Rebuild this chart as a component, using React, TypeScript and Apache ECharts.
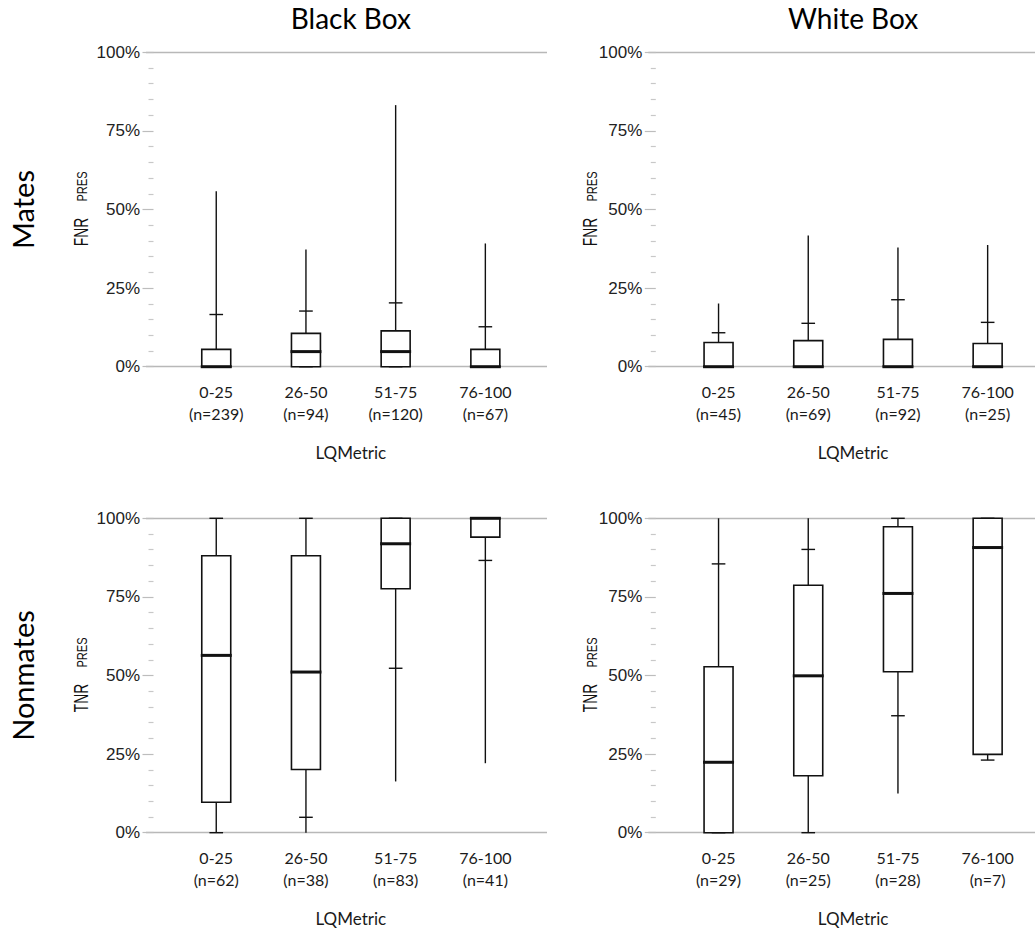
import React, { useEffect, useRef } from 'react';
import * as echarts from 'echarts';

// LQMetric bins (same for every panel)
const categories = ['0-25', '26-50', '51-75', '76-100'];

// sample sizes per bin
const nBlackMates = [239, 94, 120, 67];
const nWhiteMates = [45, 69, 92, 25];
const nBlackNonmates = [62, 38, 83, 41];
const nWhiteNonmates = [29, 25, 28, 7];

// one row per bin: [min, lower tick, Q1, median, Q3, upper tick, max] in %
const blackMates = [
  [0, 0, 0, 0, 5.5, 16.6, 55.8],
  [0, 0, 0, 4.8, 10.6, 17.7, 37.3],
  [0, 0, 0, 4.8, 11.4, 20.3, 83.2],
  [0, 0, 0, 0, 5.5, 12.7, 39.2],
];
const whiteMates = [
  [0, 0, 0, 0, 7.7, 10.8, 20.1],
  [0, 0, 0, 0, 8.3, 13.8, 41.7],
  [0, 0, 0, 0, 8.7, 21.3, 37.9],
  [0, 0, 0, 0, 7.4, 14.1, 38.7],
];
const blackNonmates = [
  [0, 0, 9.7, 56.4, 88.1, 100, 100],
  [0, 4.9, 20.1, 51.1, 88.1, 100, 100],
  [16.3, 52.3, 77.6, 91.9, 100, 100, 100],
  [22.1, 86.6, 94.0, 100, 100, 100, 100],
];
const whiteNonmates = [
  [0, 0, 0, 22.4, 52.8, 85.5, 100],
  [0, 0, 18.1, 49.9, 78.7, 90.1, 100],
  [12.5, 37.2, 51.2, 76.1, 97.3, 100, 100],
  [23.1, 23.1, 24.9, 90.7, 100, 100, 100],
];

const yTicks = [0, 25, 50, 75, 100];

// layout (pixels)
const COL_DX = 502.3;
const ROW_TOP = [52.3, 518.3];
const PLOT_H = 314.4;
const FRAME_LEFT = 146;
const FRAME_W = 401;
const BOX_LEFT = 171.4;
const BOX_W = 358.8;
const AXIS_X = 153.5;

const panels = [
  { rows: blackMates, counts: nBlackMates, col: 0, row: 0, yName: 'FNR' },
  { rows: whiteMates, counts: nWhiteMates, col: 1, row: 0, yName: 'FNR' },
  { rows: blackNonmates, counts: nBlackNonmates, col: 0, row: 1, yName: 'TNR' },
  { rows: whiteNonmates, counts: nWhiteNonmates, col: 1, row: 1, yName: 'TNR' },
];

const renderBox = (params: any, api: any) => {
  const idx = api.value(0);
  const v = [1, 2, 3, 4, 5, 6, 7].map((k) => api.value(k));
  const band = api.size([1, 0])[0];
  const boxW = band * 0.323;
  const capW = band * 0.152;
  const y = (val: number) => api.coord([idx, val])[1];
  const cx = api.coord([idx, 0])[0];
  const [yMin, yLow, yQ1, yMed, yQ3, yHigh, yMax] = v.map(y);
  const ink = '#111';
  const line = (x1: number, y1: number, x2: number, y2: number, w: number) => ({
    type: 'line',
    shape: { x1, y1, x2, y2 },
    style: { stroke: ink, lineWidth: w },
  });
  return {
    type: 'group',
    children: [
      line(cx, yQ3, cx, yMax, 1.4),
      line(cx, yQ1, cx, yMin, 1.4),
      line(cx - capW / 2, yHigh, cx + capW / 2, yHigh, 1.4),
      line(cx - capW / 2, yLow, cx + capW / 2, yLow, 1.4),
      {
        type: 'rect',
        shape: { x: cx - boxW / 2, y: yQ3, width: boxW, height: yQ1 - yQ3 },
        style: { fill: '#fff', stroke: ink, lineWidth: 1.6 },
      },
      line(cx - boxW / 2 - 1, yMed, cx + boxW / 2 + 1, yMed, 3),
    ],
  };
};

const App: React.FC = () => {
  const chartRef = useRef<HTMLDivElement>(null);

  useEffect(() => {
    if (!chartRef.current) return;
    const chart = echarts.init(chartRef.current, undefined, { renderer: 'svg' });

    const grid: any[] = [];
    const xAxis: any[] = [];
    const yAxis: any[] = [];
    const series: any[] = [];
    const graphic: any[] = [];

    panels.forEach((p, i) => {
      const dx = p.col * COL_DX;
      const top = ROW_TOP[p.row];

      // wide frame grid: only the grey lines at 0% and 100%
      grid.push({ left: FRAME_LEFT + dx, top, width: FRAME_W, height: PLOT_H });
      xAxis.push({ gridIndex: 2 * i, type: 'value', show: false });
      yAxis.push({
        gridIndex: 2 * i,
        type: 'value',
        min: 0,
        max: 100,
        interval: 100,
        axisLine: { show: false },
        axisTick: { show: false },
        axisLabel: { show: false },
        splitLine: { show: true, lineStyle: { color: '#b8b8b8', width: 1.3 } },
      });

      // box grid
      grid.push({ left: BOX_LEFT + dx, top, width: BOX_W, height: PLOT_H });
      xAxis.push({
        gridIndex: 2 * i + 1,
        type: 'category',
        data: categories.map((c, k) => `${c}\n(n=${p.counts[k]})`),
        axisLine: { show: false },
        axisTick: { show: false },
        axisLabel: {
          margin: 14,
          fontSize: 16,
          lineHeight: 22,
          fontFamily: 'Lato',
          color: '#1a1a1a',
        },
      });
      yAxis.push({
        gridIndex: 2 * i + 1,
        type: 'value',
        min: yTicks[0],
        max: yTicks[yTicks.length - 1],
        interval: 25,
        offset: BOX_LEFT - AXIS_X,
        axisLine: { show: false },
        axisTick: { show: true, length: 11, lineStyle: { color: '#bdbdbd', width: 1.2 } },
        minorTick: { show: true, splitNumber: 5, length: 5, lineStyle: { color: '#c8c8c8', width: 1.2 } },
        splitLine: { show: false },
        axisLabel: {
          formatter: '{value}%',
          margin: 13.5,
          fontSize: 17,
          fontFamily: 'Liberation Sans',
          color: '#222',
        },
      });

      series.push({
        type: 'custom',
        xAxisIndex: 2 * i + 1,
        yAxisIndex: 2 * i + 1,
        renderItem: renderBox,
        encode: { x: 0, y: [1, 2, 3, 4, 5, 6, 7] },
        data: p.rows.map((r, k) => [k, ...r]),
        z: 5,
      });

      // y axis name, e.g. FNR PRES (rotated, squeezed along the text)
      const nameX = p.col ? 590.3 : 81;
      const mid = top + PLOT_H / 2;
      graphic.push({
        type: 'text',
        x: nameX,
        y: mid + 22.5,
        rotation: Math.PI / 2,
        scaleX: 0.69,
        style: {
          text: p.yName,
          fontSize: 20,
          fontFamily: 'Liberation Sans',
          fill: '#111',
          align: 'center',
          verticalAlign: 'middle',
        },
      });
      graphic.push({
        type: 'text',
        x: nameX + 2,
        y: mid - 23,
        rotation: Math.PI / 2,
        scaleX: 0.79,
        style: {
          text: 'PRES',
          fontSize: 14,
          fontFamily: 'Liberation Sans',
          fill: '#111',
          align: 'center',
          verticalAlign: 'middle',
        },
      });

      // x axis name
      graphic.push({
        type: 'text',
        x: BOX_LEFT + dx + BOX_W / 2,
        y: top + PLOT_H + 85.8,
        style: {
          text: 'LQMetric',
          fontSize: 17,
          fontFamily: 'Lato',
          fill: '#1a1a1a',
          align: 'center',
          verticalAlign: 'middle',
        },
      });
    });

    // column titles
    ['Black Box', 'White Box'].forEach((t, c) => {
      graphic.push({
        type: 'text',
        x: BOX_LEFT + c * COL_DX + BOX_W / 2,
        y: 17.5,
        style: { text: t, fontSize: 28, fontFamily: 'Lato', fill: '#000', align: 'center', verticalAlign: 'middle' },
      });
    });

    // row titles
    ['Mates', 'Nonmates'].forEach((t, r) => {
      graphic.push({
        type: 'text',
        x: 22.5,
        y: ROW_TOP[r] + PLOT_H / 2,
        rotation: Math.PI / 2,
        style: { text: t, fontSize: 29, fontFamily: 'Lato', fill: '#000', align: 'center', verticalAlign: 'middle' },
      });
    });

    chart.setOption({
      animation: false,
      backgroundColor: '#fff',
      textStyle: { fontFamily: 'Lato' },
      grid,
      xAxis,
      yAxis,
      series,
      graphic,
    });

    return () => {
      chart.dispose();
    };
  }, []);

  return (
    <div
      ref={chartRef}
      style={{ position: 'absolute', left: 0, top: 0, width: '1035px', height: '932px', background: '#fff' }}
    />
  );
};

export default App;
